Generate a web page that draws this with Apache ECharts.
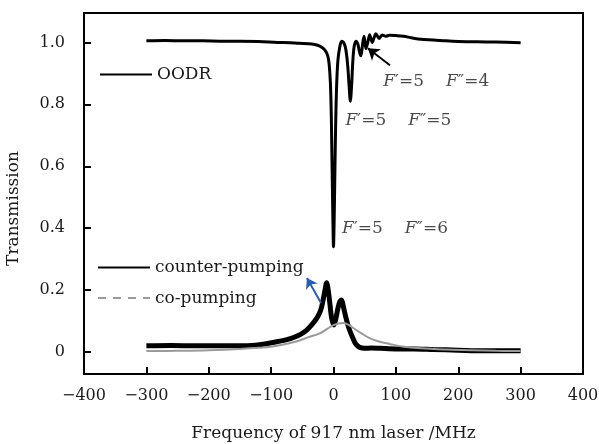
<!DOCTYPE html>
<html><head><meta charset="utf-8">
<script src="https://cdn.jsdelivr.net/npm/echarts@6/dist/echarts.min.js"></script>
<style>html,body{margin:0;padding:0;background:#fff}#c{width:599px;height:444px}</style>
</head><body><div id="c"></div>
<script>
// ---- data ----
const oodrX = [-300,-270,-240,-210,-180,-150,-120,-90,-70,-55,-40,-30,-22,-16,-12,-9,-7,-5,-3.5,-2,-1,0,1,2,3.5,5,7,10,13,16,19,21,23,25,27,29,31,33,36,39,41,43,44,47,49,52,55,58,62,65,68,73,78,84,90,100,112,125,140,160,180,200,230,260,300];
const oodrY = [1.005,1.006,1.005,1.005,1.004,1.004,1.003,1.0,0.999,0.997,0.996,0.993,0.988,0.98,0.97,0.955,0.93,0.87,0.76,0.56,0.43,0.34,0.42,0.55,0.74,0.86,0.94,0.985,1.004,1.0,0.985,0.96,0.92,0.86,0.81,0.86,0.94,0.985,1.004,0.995,0.975,0.96,0.957,1.0,1.02,0.98,1.0,1.025,1.0,1.015,1.028,1.013,1.024,1.02,1.023,1.022,1.02,1.015,1.01,1.008,1.005,1.003,1.002,1.001,0.999];

const counterX = [-300,-260,-220,-180,-150,-125,-110,-91,-75,-64,-52,-43,-35,-27,-22,-19,-16,-13.6,-11,-8.5,-6,-3,0.8,4,7,10,13,16,20,25,31,36,42,50,60,75,100,130,160,200,240,270,300];
const counterY = [0.02,0.021,0.02,0.02,0.02,0.022,0.026,0.033,0.04,0.047,0.058,0.071,0.088,0.109,0.128,0.146,0.175,0.2,0.224,0.2,0.16,0.11,0.087,0.11,0.14,0.162,0.168,0.145,0.11,0.075,0.045,0.025,0.015,0.012,0.013,0.012,0.01,0.01,0.008,0.006,0.004,0.004,0.004];

const coX = [-300,-250,-200,-150,-120,-100,-80,-60,-40,-22,-10,0,8,15,22,30,45,58,74,90,110,140,180,220,260,300];
const coY = [0.003,0.004,0.006,0.01,0.014,0.017,0.024,0.034,0.048,0.06,0.075,0.087,0.092,0.094,0.09,0.08,0.06,0.045,0.033,0.026,0.018,0.012,0.008,0.006,0.004,0.003];

const yTicks = [0,0.2,0.4,0.6,0.8,1.0];
const seriesNames = ['OODR','counter-pumping','co-pumping'];
const annoTexts = [['5','4'],['5','5'],['5','6']];

// ---- chart ----
const zip = (xs, ys) => xs.map((x, i) => [x, ys[i]]);
const FONT = "'DejaVu Serif', serif";
const TXT = '#1a1a1a';
const SOLID_ICON = 'path://M0 0H52V2H0Z';
const DASH_ICON = 'path://M0 0h8v2h-8z M15 0h8v2h-8z M30 0h8v2h-8z M45 0h7v2h-7z';
const chart = echarts.init(document.getElementById('c'), null, {renderer: 'canvas'});

const annoRich = {
  i: {fontStyle: 'italic', fontFamily: FONT, fontSize: 17, color: TXT},
  n: {fontFamily: FONT, fontSize: 17, color: TXT},
  s: {width: 22}
};
const annoFmt = (p) => {
  const t = annoTexts[p.dataIndex];
  return '{i|F}{n|\u2032=' + t[0] + '}{s| }{i|F}{n|\u2033=' + t[1] + '}';
};
const legendText = {fontFamily: FONT, fontSize: 17, color: TXT};

chart.setOption({
  animation: false,
  backgroundColor: '#fff',
  grid: {left: 84, right: 16, top: 13, bottom: 70, outerBoundsMode: 'none', containLabel: false,
    show: true, borderColor: '#000', borderWidth: 2, backgroundColor: 'transparent'},
  legend: [
    {data: [{name: seriesNames[0], icon: SOLID_ICON}], left: 100, top: 66, padding: 0,
     itemWidth: 52, itemHeight: 14, textStyle: legendText, selectedMode: false},
    {data: [{name: seriesNames[1], icon: SOLID_ICON}, {name: seriesNames[2], icon: DASH_ICON}],
     orient: 'vertical', left: 98, top: 259, padding: 0, itemGap: 13.6,
     itemWidth: 52, itemHeight: 14, textStyle: legendText, selectedMode: false}
  ],
  xAxis: {
    type: 'value', min: -400, max: 400, interval: 100,
    name: 'Frequency of 917 nm laser /MHz', nameLocation: 'middle', nameGap: 51,
    nameTextStyle: {fontFamily: FONT, fontSize: 17, color: TXT},
    axisLine: {onZero: false, lineStyle: {color: '#000', width: 2}},
    axisTick: {inside: true, length: 7, lineStyle: {color: '#000', width: 2}},
    axisLabel: {margin: 14, fontFamily: FONT, fontSize: 16, color: TXT,
      formatter: v => v < 0 ? '\u2212' + Math.abs(v) : String(v)},
    splitLine: {show: false}
  },
  yAxis: {
    type: 'value', min: -0.071, max: 1.095,
    name: 'Transmission', nameLocation: 'middle', nameGap: 62,
    nameTextStyle: {fontFamily: FONT, fontSize: 17, color: TXT, padding: [0, 30, 0, 0]},
    axisLine: {onZero: false, lineStyle: {color: '#000', width: 2}},
    axisTick: {inside: true, length: 7, lineStyle: {color: '#000', width: 2}, customValues: yTicks},
    axisLabel: {margin: 19, fontFamily: FONT, fontSize: 16, color: TXT, customValues: yTicks,
      formatter: v => Math.abs(v) < 1e-9 ? '0' : v.toFixed(1)},
    splitLine: {show: false}
  },
  series: [
    {name: seriesNames[0], type: 'line', data: zip(oodrX, oodrY), symbol: 'none', smooth: 0.3,
     lineStyle: {color: '#000', width: 3}, itemStyle: {color: '#000'},
     markLine: {silent: true, symbol: ['none', 'arrow'], symbolSize: 11, label: {show: false},
       lineStyle: {color: '#000', width: 2, type: 'solid'},
       data: [[{coord: [90.5, 0.926]}, {coord: [55, 0.981]}]]}},
    {name: seriesNames[1], type: 'line', data: zip(counterX, counterY), symbol: 'none', smooth: 0.3,
     lineStyle: {color: '#000', width: 5}, itemStyle: {color: '#000'},
     markLine: {silent: true, symbol: ['none', 'arrow'], symbolSize: 10, label: {show: false},
       lineStyle: {color: '#2a5db0', width: 2, type: 'solid'},
       data: [[{coord: [-20, 0.158]}, {coord: [-42.6, 0.239]}]]}},
    {name: seriesNames[2], type: 'line', data: zip(coX, coY), symbol: 'none', smooth: 0.4,
     lineStyle: {color: '#9a9a9a', width: 2}, itemStyle: {color: '#9a9a9a'}},
    {name: 'annotations', type: 'scatter', symbolSize: 1, itemStyle: {color: 'rgba(0,0,0,0)'},
     data: [[79, 0.874], [18.4, 0.748], [13, 0.40]],
     label: {show: true, position: 'right', distance: 0, formatter: annoFmt, rich: annoRich},
     silent: true}
  ]
});
</script>
</body></html>
